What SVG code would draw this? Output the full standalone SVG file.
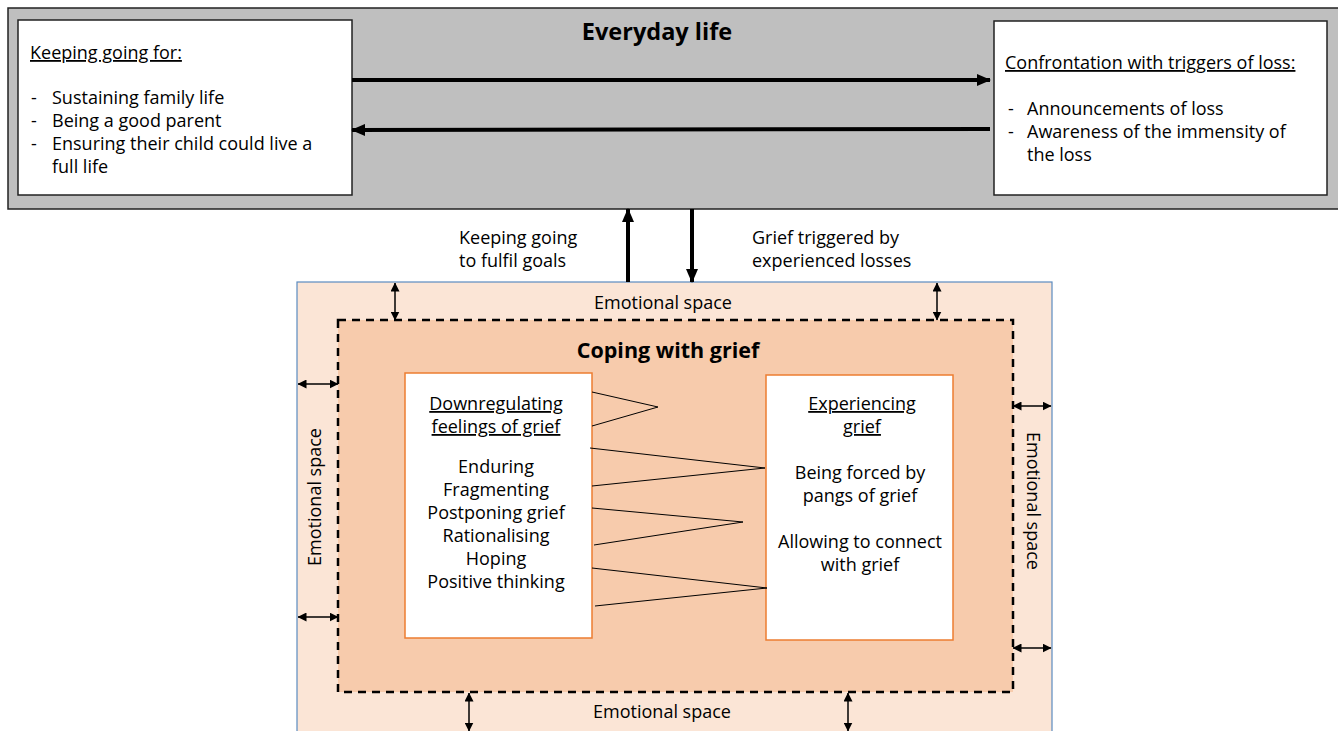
<svg xmlns="http://www.w3.org/2000/svg" width="1338" height="731" viewBox="0 0 1338 731">
<defs>
<marker id="big" markerWidth="14" markerHeight="12" refX="13" refY="6" orient="auto" markerUnits="userSpaceOnUse"><path d="M0,0 L14,6 L0,12 Z" fill="#000"/></marker>
<marker id="sm" markerWidth="9" markerHeight="9" refX="8.5" refY="4.5" orient="auto-start-reverse" markerUnits="userSpaceOnUse"><path d="M0,0 L9,4.5 L0,9 Z" fill="#000"/></marker>
<style>
text{font-family:"Open Sans","Noto Sans","DejaVu Sans",sans-serif;fill:#000}
.t{font-size:18px}
.c{font-size:18px;text-anchor:middle}
.u{text-decoration:underline}
.b{font-weight:bold}
.bigarrow{stroke:#000;stroke-width:4;fill:none}
.sa{stroke:#000;stroke-width:1.5;fill:none;marker-start:url(#sm);marker-end:url(#sm)}
.zz{stroke:#000;stroke-width:1;fill:none}
.inner{fill:#fff;stroke:#ED7D31;stroke-width:1.5}
</style>
</defs>

<g id="everyday-life">
<rect x="8" y="8" width="1334" height="201" fill="#BFBFBF" stroke="#222" stroke-width="1.5"/>
<text x="657" y="40" class="b" style="font-size:23.5px" text-anchor="middle">Everyday life</text>
</g>

<g id="keeping-going-for">
<rect x="18" y="20" width="334" height="175" fill="#fff" stroke="#222" stroke-width="1.5"/>
<text x="30" y="59" class="t u">Keeping going for:</text>
<text x="31" y="104" class="t">-</text><text x="52" y="104" class="t">Sustaining family life</text>
<text x="31" y="127" class="t">-</text><text x="52" y="127" class="t">Being a good parent</text>
<text x="31" y="150" class="t">-</text><text x="52" y="150" class="t">Ensuring their child could live a</text>
<text x="52" y="173" class="t">full life</text>
</g>

<g id="confrontation">
<rect x="994" y="21" width="333" height="174" fill="#fff" stroke="#222" stroke-width="1.5"/>
<text x="1005" y="69" class="t u">Confrontation with triggers of loss:</text>
<text x="1008" y="115" class="t">-</text><text x="1027" y="115" class="t">Announcements of loss</text>
<text x="1008" y="138" class="t">-</text><text x="1027" y="138" class="t">Awareness of the immensity of</text>
<text x="1027" y="161" class="t">the loss</text>
</g>

<g id="emotional-space">
<rect x="297" y="282" width="755" height="460" fill="#FBE5D6" stroke="#5B8BC0" stroke-width="1.2"/>
<text x="663" y="309" class="c">Emotional space</text>
<text x="662" y="718" class="c">Emotional space</text>
<text transform="translate(321,497) rotate(-90)" class="c">Emotional space</text>
<text transform="translate(1027,501) rotate(90)" class="c">Emotional space</text>
</g>

<g id="coping-with-grief">
<rect x="338" y="320" width="675" height="372" fill="#F7CBAC" stroke="#000" stroke-width="2.5" stroke-dasharray="8,6"/>
<text x="668" y="358" class="b" style="font-size:21.5px" text-anchor="middle">Coping with grief</text>
</g>

<g id="downregulating">
<rect x="405" y="373" width="187" height="265" class="inner"/>
<text x="496" y="410" class="c u">Downregulating</text>
<text x="496" y="433" class="c u">feelings of grief</text>
<text x="496" y="473" class="c">Enduring</text>
<text x="496" y="496" class="c">Fragmenting</text>
<text x="496" y="519" class="c">Postponing grief</text>
<text x="496" y="542" class="c">Rationalising</text>
<text x="496" y="565" class="c">Hoping</text>
<text x="496" y="588" class="c">Positive thinking</text>
</g>

<g id="experiencing">
<rect x="766" y="375" width="187" height="265" class="inner"/>
<text x="862" y="410" class="c u">Experiencing </text>
<text x="862" y="433" class="c u">grief</text>
<text x="860" y="479" class="c">Being forced by</text>
<text x="860" y="502" class="c">pangs of grief</text>
<text x="860" y="548" class="c">Allowing to connect</text>
<text x="860" y="571" class="c">with grief</text>
</g>

<g id="connectors">
<line x1="352" y1="80" x2="990" y2="80" class="bigarrow" marker-end="url(#big)"/>
<line x1="990" y1="129" x2="352" y2="130" class="bigarrow" marker-end="url(#big)"/>
<line x1="628" y1="282" x2="628" y2="209" class="bigarrow" marker-end="url(#big)"/>
<line x1="692" y1="209" x2="692" y2="282" class="bigarrow" marker-end="url(#big)"/>
<text x="459" y="244" class="t">Keeping going</text>
<text x="459" y="267" class="t">to fulfil goals</text>
<text x="752" y="244" class="t">Grief triggered by</text>
<text x="752" y="267" class="t">experienced losses</text>

<line x1="395" y1="283" x2="395" y2="320" class="sa"/>
<line x1="937" y1="283" x2="937" y2="320" class="sa"/>
<line x1="298" y1="384" x2="338" y2="384" class="sa"/>
<line x1="298" y1="617" x2="338" y2="617" class="sa"/>
<line x1="1013" y1="406" x2="1051" y2="406" class="sa"/>
<line x1="1013" y1="648" x2="1051" y2="648" class="sa"/>
<line x1="469" y1="693" x2="469" y2="731" class="sa"/>
<line x1="848" y1="693" x2="848" y2="731" class="sa"/>

<polyline points="592,392 658,407 592,426" class="zz"/>
<polyline points="590,448 765,468 592,486" class="zz"/>
<polyline points="592,508 743,522 594,545" class="zz"/>
<polyline points="592,568 767,588 595,606" class="zz"/>
</g>
</svg>
